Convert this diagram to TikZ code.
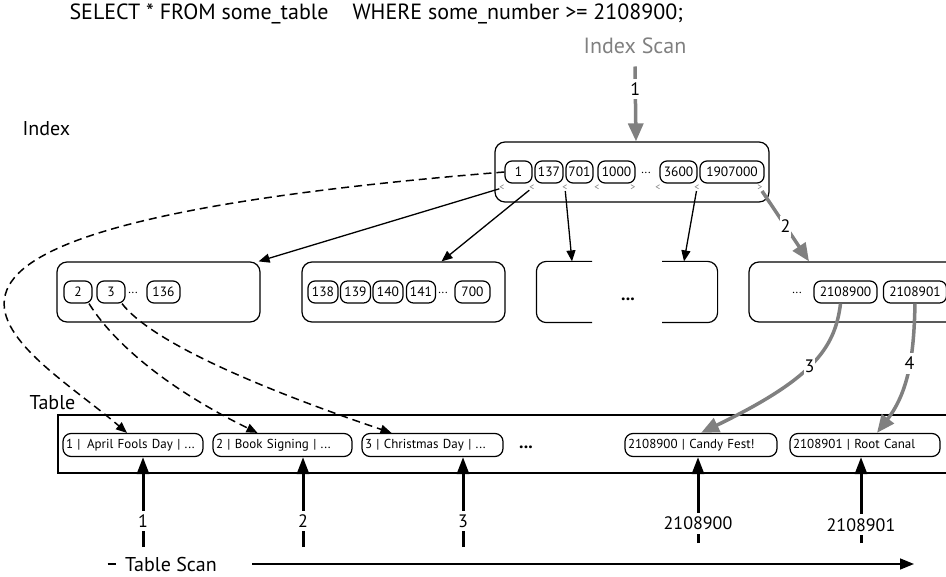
\documentclass[tikz,border=0pt]{standalone}
\usepackage{fontspec}
\setmainfont{PT Sans}
\usetikzlibrary{arrows.meta,calc}
\definecolor{scangray}{RGB}{128,128,128}

\begin{document}
\begin{tikzpicture}[x=1pt,y=-1pt,
  key/.style={draw,line width=1.2pt,rounded corners=7pt,minimum width=#1,minimum height=22pt,inner sep=0pt,font=\fontsize{13.5}{15}\selectfont},
  key/.default=27pt,
  levelbox/.style={draw,line width=1.2pt,rounded corners=10pt,minimum width=#1,minimum height=60pt},
  record/.style={draw,line width=1.2pt,rounded corners=8pt,text width=#1,align=left,inner xsep=3pt,minimum height=23pt,font=\fontsize{13}{15}\selectfont},
  ptr/.style={text=scangray,font=\fontsize{10}{10}\selectfont,inner sep=0pt},
  dots/.style={font=\fontsize{12}{12}\selectfont,inner sep=0pt},
  lbl/.style={font=\fontsize{20}{22}\selectfont},
  steplbl/.style={fill=white,inner xsep=1pt,inner ysep=4pt,font=\fontsize{18}{20}\selectfont},
  grayarrow/.style={draw=scangray,line width=3.5pt,-{Triangle[length=18pt,width=15pt]}},
  blackarrow/.style={line width=1.3pt,-{Triangle[length=11pt,width=9pt]}},
  rowptr/.style={line width=1.5pt,dashed,dash pattern=on 8pt off 5pt,-{Triangle[length=11pt,width=9pt]}},
  scanarrow/.style={line width=3pt,-{Triangle[length=17pt,width=12pt]}}]
\useasboundingbox (0,0) rectangle (946,577);
\clip (0,0) rectangle (946,577);

% query and labels
\node[anchor=west,font=\fontsize{22}{24}\selectfont] (query) at (66,14) {SELECT * FROM some\_table\hspace{24pt}WHERE some\_number >= 2108900;};
\node[text=scangray,font=\fontsize{22}{24}\selectfont] (iscan) at (635,46) {Index Scan};
\node[lbl,anchor=west] (idx) at (19,129) {Index};
\node[lbl,anchor=west] (tbl) at (26,403) {Table};

% root of the index
\node[levelbox=274pt] (root) at (632,172) {};
\node[key] (k1) at (518.5,172) {1};
\node[key=28pt] (k137) at (549,172) {137};
\node[key] (k701) at (579.5,172) {701};
\node[key=37pt] (k1000) at (616.5,172) {1000};
\node[dots] (kd) at (646,173) {...};
\node[key=37pt] (k3600) at (678.5,172) {3600};
\node[key=64pt] (k1907000) at (732,172) {1907000};
\node[ptr] (m1) at (502,188) {<};
\node[ptr] (m2) at (532,188) {<};
\node[ptr] (m3) at (565,188) {<};
\node[ptr] (m4) at (597,188) {<};
\node[ptr] (m5) at (633,188) {>};
\node[ptr] (m6) at (658,188) {<};
\node[ptr] (m7) at (697,188) {<};
\node[ptr] (m8) at (760,188) {>};

% leaf level
\node[levelbox=203pt] (A) at (158.5,292) {};
\node[key=28pt] (k2) at (78,292) {2};
\node[key=28pt] (k3) at (111,292) {3};
\node[dots] (ad) at (133,293) {...};
\node[key=33pt] (k136) at (163.5,292) {136};

\node[levelbox=203pt] (B) at (403.5,292) {};
\node[key=30pt] (k138) at (323,292) {138};
\node[key=30pt] (k139) at (355.5,292) {139};
\node[key=30pt] (k140) at (388,292) {140};
\node[key=29pt] (k141) at (421,292) {141};
\node[dots] (bd) at (443,293) {...};
\node[key=35pt] (k700) at (472.5,292) {700};

\node[levelbox=180pt,draw=none] (C) at (627,292) {};
\node[font=\fontsize{18}{18}\selectfont\bfseries] (cd) at (628,299) {...};
\draw[line width=1.2pt,rounded corners=10pt] ([xshift=-35pt]C.north) -- (C.north west) -- (C.south west) -- ([xshift=-35pt]C.south);
\draw[line width=1.2pt,rounded corners=10pt] ([xshift=35pt]C.north) -- (C.north east) -- (C.south east) -- ([xshift=35pt]C.south);

\node[levelbox=216pt] (D) at (857,292) {};
\node[dots] (dd) at (797,293) {...};
\node[key=63pt] (k2108900) at (845.5,292) {2108900};
\node[key=63pt] (k2108901) at (915,292) {2108901};

% table rows
\node[draw,line width=1.2pt,minimum width=902pt,minimum height=58pt] (table) at (509,444) {};
\node[record=134pt] (r1) at (133,445) {1 |\ \,April Fools Day | ...};
\node[record=133pt] (r2) at (282.5,445) {2 | Book Signing | ...};
\node[record=135pt] (r3) at (432.5,445) {3 | Christmas Day | ...};
\node[font=\fontsize{18}{18}\selectfont\bfseries] (td) at (526,447) {...};
\node[record=146pt] (r4) at (701,445) {2108900 | Candy Fest!};
\node[record=144pt] (r5) at (865,445) {2108901 | Root Canal};

% index scan
\draw[grayarrow] ([yshift=-9pt]iscan.south) -- node[steplbl,pos=0.3,text=black] {1} ([xshift=4pt]root.north);
\draw[blackarrow] (m1) -- ([xshift=-2pt]A.north east);
\draw[blackarrow] (m2) -- ([xshift=38pt]A.north -| B.north);
\draw[blackarrow] (m3) -- ([xshift=-55pt]C.north);
\draw[blackarrow] (m7) -- ([xshift=57pt]C.north);
\draw[grayarrow] (m8) -- node[steplbl,pos=0.5,text=black] {2} ([xshift=-48pt]D.north);
\draw[grayarrow] ([xshift=-5pt]k2108900.south) .. controls (835,350) and (810,380) .. node[steplbl,pos=0.5,text=black] {3} (r4.north);
\draw[grayarrow] (k2108901.south) .. controls (914,350) and (910,390) .. node[steplbl,pos=0.45,text=black] {4} ([xshift=12pt]r5.north);

% row pointers
\draw[rowptr] (k1.west) .. controls (-215,230) and (25,345) .. ([xshift=-6pt]r1.north);
\draw[rowptr] ([xshift=11pt]k2.south) .. controls (115,345) and (170,390) .. ([xshift=-25pt]r2.north);
\draw[rowptr] ([xshift=11pt]k3.south) .. controls (150,340) and (250,385) .. ([xshift=-41pt]r3.north);

% table scan
\coordinate (s1) at (143,547);
\coordinate (s2) at (303,547);
\coordinate (s3) at (463,547);
\coordinate (s4) at (698,543);
\coordinate (s5) at (861,543);
\draw[scanarrow] (s1) -- node[steplbl,pos=0.29] {1} (s1 |- r1.south);
\draw[scanarrow] (s2) -- node[steplbl,pos=0.29] {2} (s2 |- r2.south);
\draw[scanarrow] (s3) -- node[steplbl,pos=0.29] {3} (s3 |- r3.south);
\draw[scanarrow] (s4) -- node[steplbl,pos=0.23] {2108900} (s4 |- r4.south);
\draw[scanarrow] (s5) -- node[steplbl,pos=0.21] {2108901} (s5 |- r5.south);
\node[font=\fontsize{20}{22}\selectfont] (tscan) at (171,564) {Table Scan};
\coordinate (tsend) at (914,564);
\draw[line width=1.5pt] ([xshift=-14pt]tscan.west) -- ([xshift=-6pt]tscan.west);
\draw[line width=1.5pt,-{Triangle[length=14pt,width=11pt]}] ([xshift=32pt]tscan.east) -- (tsend);
\end{tikzpicture}
\end{document}
